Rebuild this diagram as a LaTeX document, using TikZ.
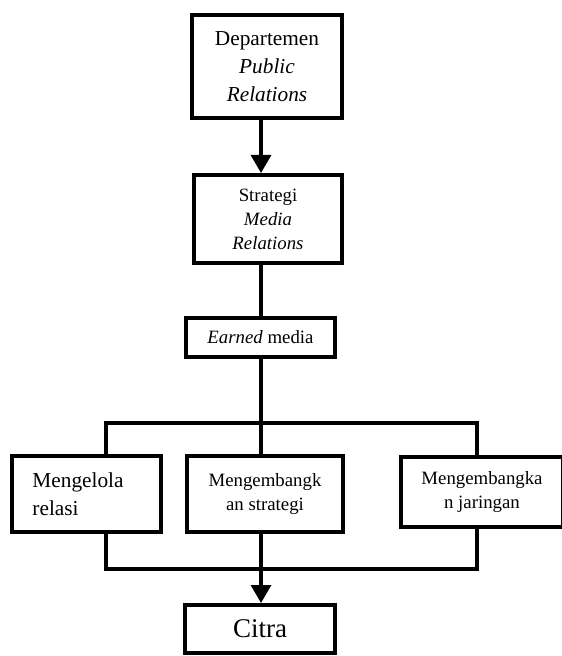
\documentclass[tikz,border=0pt]{standalone}
\usepackage{fontspec}
\setmainfont{Liberation Serif}
\usetikzlibrary{arrows.meta,positioning}

\begin{document}
\begin{tikzpicture}[
    node distance=25pt,
    box/.style={rectangle, draw=black, line width=2pt, fill=white,
                align=center, inner sep=2pt},
    big/.style={font=\fontsize{10.65}{14}\selectfont},
    med/.style={font=\fontsize{9.4}{12}\selectfont},
    link/.style={line width=1.6pt},
    arr/.style={-{Triangle[length=9pt,width=10pt]}, line width=1.6pt}
]
\useasboundingbox (0,0) rectangle (280.5pt,-328pt);

% Top column
\node[box, big, minimum width=75pt, minimum height=51.5pt] (dept) at (133.5pt,-33.25pt)
    {Departemen\\\textit{Public}\\\textit{Relations}};
\node[box, med, minimum width=74pt, minimum height=44pt, below=26.5pt of dept, xshift=0.5pt] (strat)
    {Strategi\\\textit{Media}\\\textit{Relations}};
\node[box, med, minimum width=74.5pt, minimum height=19.5pt, below=25.5pt of strat, xshift=-3.75pt] (earned)
    {\textit{Earned} media};

% Three activities
\node[box, med, minimum width=78pt, minimum height=38pt, below=47.5pt of earned, xshift=2.25pt] (strategi)
    {Mengembangk\\an strategi};
\node[box, big, align=left, text width=54pt, inner xsep=10.25pt, minimum height=38pt, left=11pt of strategi] (relasi)
    {Mengelola\\relasi};
\node[box, med, minimum width=81pt, minimum height=35pt, right=27pt of strategi, yshift=1pt] (jaringan)
    {Mengembangka\\n jaringan};

% Result
\node[box, font=\fontsize{13.5}{16}\selectfont, minimum width=75pt, minimum height=24pt,
      below=34.5pt of strategi, xshift=-2.5pt] (citra) {Citra};

% Branch points
\coordinate (split) at (130.5pt,-211.5pt);
\coordinate (splitL) at (53pt,-211.5pt);
\coordinate (splitR) at (238.5pt,-211.5pt);
\coordinate (join) at (130.5pt,-284.5pt);
\coordinate (joinL) at (53pt,-284.5pt);
\coordinate (joinR) at (238.5pt,-284.5pt);

% Connectors
\draw[arr] (dept.south -| split) -- (strat.north -| split);
\draw[link] (strat.south -| split) -- (earned.north -| split);
\draw[link] (earned.south -| split) -- (split);
\draw[link] (relasi.north -| splitL) |- (splitR) -- (jaringan.north -| splitR);
\draw[link] (split) -- (strategi.north -| split);
\draw[link] (relasi.south -| joinL) |- (joinR) -- (jaringan.south -| joinR);
\draw[link] (strategi.south -| join) -- (join);
\draw[arr] (join) -- (citra.north -| join);
\end{tikzpicture}
\end{document}
